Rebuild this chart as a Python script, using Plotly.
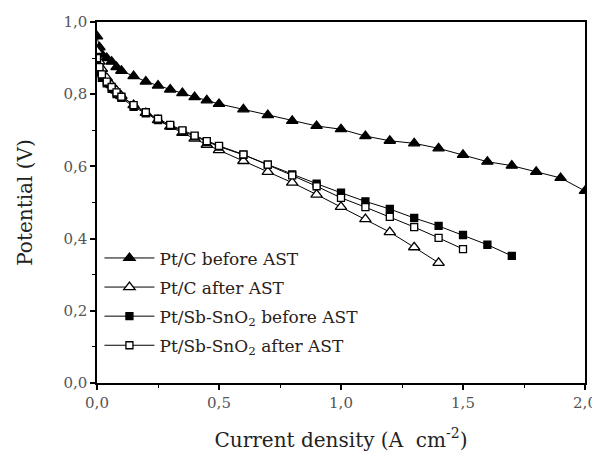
import plotly.graph_objects as go

# Pt/C before AST (filled triangles)
x_ptc_before = [0, 0.01, 0.02, 0.04, 0.06, 0.08, 0.1, 0.15, 0.2, 0.25, 0.3, 0.35, 0.4, 0.45, 0.5,
                0.6, 0.7, 0.8, 0.9, 1.0, 1.1, 1.2, 1.3, 1.4, 1.5, 1.6, 1.7, 1.8, 1.9, 2.0]
y_ptc_before = [0.96, 0.93, 0.91, 0.90, 0.89, 0.875, 0.865, 0.85, 0.835, 0.824, 0.813, 0.803, 0.792, 0.783, 0.773,
                0.758, 0.742, 0.726, 0.712, 0.703, 0.684, 0.671, 0.664, 0.650, 0.632, 0.613, 0.602, 0.585, 0.568, 0.532]

# Pt/C after AST (open triangles)
x_ptc_after = [0, 0.01, 0.02, 0.04, 0.06, 0.08, 0.1, 0.15, 0.2, 0.25, 0.3, 0.35, 0.4, 0.45, 0.5,
               0.6, 0.7, 0.8, 0.9, 1.0, 1.1, 1.2, 1.3, 1.4]
y_ptc_after = [0.92, 0.89, 0.87, 0.845, 0.825, 0.81, 0.795, 0.77, 0.748, 0.728, 0.71, 0.693, 0.677, 0.66, 0.645,
               0.615, 0.585, 0.555, 0.522, 0.488, 0.454, 0.418, 0.376, 0.333]

# Pt/Sb-SnO2 before AST (filled squares)
x_sb_before = [0, 0.01, 0.02, 0.04, 0.06, 0.08, 0.1, 0.15, 0.2, 0.25, 0.3, 0.35, 0.4, 0.45, 0.5,
               0.6, 0.7, 0.8, 0.9, 1.0, 1.1, 1.2, 1.3, 1.4, 1.5, 1.6, 1.7]
y_sb_before = [0.88, 0.86, 0.845, 0.83, 0.815, 0.80, 0.79, 0.765, 0.747, 0.728, 0.712, 0.698, 0.683, 0.668, 0.655,
               0.632, 0.605, 0.578, 0.552, 0.527, 0.503, 0.482, 0.457, 0.435, 0.410, 0.383, 0.352]

# Pt/Sb-SnO2 after AST (open squares)
x_sb_after = [0, 0.01, 0.02, 0.04, 0.06, 0.08, 0.1, 0.15, 0.2, 0.25, 0.3, 0.35, 0.4, 0.45, 0.5,
              0.6, 0.7, 0.8, 0.9, 1.0, 1.1, 1.2, 1.3, 1.4, 1.5]
y_sb_after = [0.90, 0.875, 0.855, 0.835, 0.82, 0.805, 0.793, 0.77, 0.75, 0.732, 0.715, 0.70, 0.685, 0.67, 0.657,
              0.633, 0.605, 0.575, 0.545, 0.513, 0.487, 0.460, 0.432, 0.402, 0.371]

names = ["Pt/C before AST", "Pt/C after AST",
         "Pt/Sb-SnO<sub>2</sub> before AST", "Pt/Sb-SnO<sub>2</sub> after AST"]

x_ticks = [0, 0.5, 1.0, 1.5, 2.0]
y_ticks = [0, 0.2, 0.4, 0.6, 0.8, 1.0]

series = [
    (x_ptc_before, y_ptc_before, "triangle-up", 10, "black"),
    (x_ptc_after, y_ptc_after, "triangle-up", 10, "white"),
    (x_sb_before, y_sb_before, "square", 7, "black"),
    (x_sb_after, y_sb_after, "square", 7, "white"),
]

fig = go.Figure()
for i, ((xs, ys, sym, sz, fill), nm) in enumerate(zip(series, names)):
    fig.add_trace(go.Scatter(
        x=xs, y=ys, mode="lines+markers", name=nm, legendgroup=str(i),
        line=dict(color="black", width=1),
        marker=dict(symbol=sym, size=sz, color=fill,
                    line=dict(color="black", width=1.3)),
    ))

serif = "DejaVu Serif, Liberation Serif, serif"
fig.update_layout(
    width=592, height=448,
    margin=dict(l=89, r=15, t=14, b=73),
    paper_bgcolor="white", plot_bgcolor="white",
    separators=",.",
    font=dict(family=serif, color="black"),
    showlegend=True,
    legend=dict(x=0.005, y=0.395, xanchor="left", yanchor="top",
                bgcolor="rgba(0,0,0,0)", font=dict(size=17, family=serif, color="#2a2018"),
                tracegroupgap=4, itemwidth=50),
    xaxis=dict(range=[0, 2], tickvals=x_ticks, tickformat=".1f", automargin=False,
               showline=True, linecolor="black", linewidth=1.5, mirror=True,
               ticks="outside", ticklen=5, tickwidth=1.5, tickcolor="black",
               minor=dict(ticks="outside", ticklen=3, tickwidth=1.2, tickcolor="black", dtick=0.25),
               showgrid=False, zeroline=False,
               tickfont=dict(size=15, family=serif, color="#555"),
               title=dict(text="Current density (A  cm<sup>-2</sup>)", font=dict(size=20, family=serif, color="#222"), standoff=22)),
    yaxis=dict(range=[0, 1], tickvals=y_ticks, tickformat=".1f", automargin=False,
               showline=True, linecolor="black", linewidth=1.5, mirror=True,
               ticks="outside", ticklen=5, tickwidth=1.5, tickcolor="black",
               minor=dict(ticks="outside", ticklen=3, tickwidth=1.2, tickcolor="black", dtick=0.1),
               showgrid=False, zeroline=False,
               tickfont=dict(size=15, family=serif, color="#555"),
               title=dict(text="Potential (V)", font=dict(size=20, family=serif, color="#222"), standoff=25)),
)

fig.write_html("out.html")
